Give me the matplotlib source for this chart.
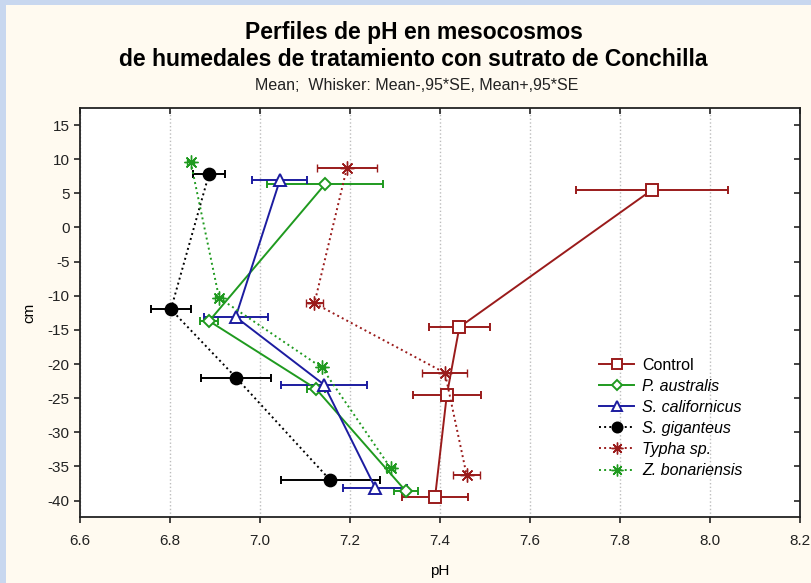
import matplotlib
matplotlib.use("Agg")
import matplotlib.pyplot as plt
from matplotlib.lines import Line2D
from matplotlib.patches import Rectangle

plt.rcParams['font.family'] = ['Liberation Sans', 'DejaVu Sans']

# ---- data ----
series_names = ["Control", "P. australis", "S. californicus", "S. giganteus", "Typha sp.", "Z. bonariensis"]
italic_flags = [False, True, True, True, True, True]

control_ph = [7.871, 7.443, 7.415, 7.389]
control_cm = [5.5, -14.6, -24.6, -39.5]
control_err = [0.168, 0.068, 0.075, 0.074]

paust_ph = [7.144, 6.887, 7.124, 7.324]
paust_cm = [6.3, -13.7, -23.6, -38.6]
paust_err = [0.129, 0.02, 0.02, 0.026]

scal_ph = [7.044, 6.946, 7.142, 7.256]
scal_cm = [6.9, -13.1, -23.0, -38.1]
scal_err = [0.061, 0.071, 0.096, 0.071]

sgig_ph = [6.887, 6.802, 6.947, 7.156]
sgig_cm = [7.9, -12.0, -22.0, -37.0]
sgig_err = [0.036, 0.044, 0.078, 0.11]

typha_ph = [7.193, 7.121, 7.411, 7.459]
typha_cm = [8.7, -11.1, -21.3, -36.2]
typha_err = [0.066, 0.019, 0.05, 0.03]

zbon_ph = [6.846, 6.909, 7.137, 7.29]
zbon_cm = [9.6, -10.3, -20.5, -35.2]
zbon_err = [0.008, 0.008, 0.008, 0.01]

x_ticks = [6.6, 6.8, 7.0, 7.2, 7.4, 7.6, 7.8, 8.0, 8.2]
y_ticks = [15, 10, 5, 0, -5, -10, -15, -20, -25, -30, -35, -40]

# ---- styles ----
RED = "#9a1b1b"
GREEN = "#1f9a1f"
BLUE = "#1c1ca0"
BLACK = "#000000"

styles = [
    dict(color=RED, marker="s", ls="-", mfc="white", ms=9, mew=1.4),
    dict(color=GREEN, marker="D", ls="-", mfc="white", ms=6.5, mew=1.4),
    dict(color=BLUE, marker="^", ls="-", mfc="white", ms=9, mew=1.4),
    dict(color=BLACK, marker="o", ls=":", mfc=BLACK, ms=8.5, mew=1.4),
    dict(color=RED, marker=(8, 2, 0), ls=":", mfc=RED, ms=10, mew=1.0),
    dict(color=GREEN, marker=(8, 2, 0), ls=":", mfc=GREEN, ms=10, mew=1.0),
]
data = [
    (control_ph, control_cm, control_err),
    (paust_ph, paust_cm, paust_err),
    (scal_ph, scal_cm, scal_err),
    (sgig_ph, sgig_cm, sgig_err),
    (typha_ph, typha_cm, typha_err),
    (zbon_ph, zbon_cm, zbon_err),
]

fig = plt.figure(figsize=(8.11, 5.83), dpi=100)
fig.patch.set_facecolor("#c8d7ef")
fig.patches.append(Rectangle((6 / 811, 0), 1, 1 - 5 / 583, transform=fig.transFigure,
                             facecolor="#fffaf0", edgecolor="none", zorder=-10))

ax = fig.add_axes([80 / 811, 1 - 517 / 583, 720 / 811, 409 / 583])
ax.set_zorder(1)
ax.set_facecolor("white")

handles = []
for (xs, ys, es), st in zip(data, styles):
    ax.errorbar(xs, ys, xerr=es, color=st["color"], marker=st["marker"], ls=st["ls"],
                lw=1.4, ms=st["ms"], mfc=st["mfc"], mec=st["color"], mew=st["mew"],
                elinewidth=1.4, capsize=3, capthick=1.2, zorder=3)
    handles.append(Line2D([0], [0], color=st["color"], marker=st["marker"], ls=st["ls"],
                          lw=1.4, ms=st["ms"] * 0.85, mfc=st["mfc"], mec=st["color"],
                          mew=st["mew"]))

ax.set_xlim(6.6, 8.2)
ax.set_ylim(-42.4, 17.5)
ax.set_xticks(x_ticks)
ax.set_xticklabels([f"{v:.1f}" for v in x_ticks])
ax.set_yticks(y_ticks)
ax.set_yticklabels([str(v) for v in y_ticks])
ax.xaxis.grid(True, color="#bdbdbd", ls=":", lw=1.0)
ax.set_axisbelow(True)

for s in ax.spines.values():
    s.set_linewidth(1.3)
    s.set_color("#222222")

ax.tick_params(axis="y", which="both", direction="out", length=4, width=1.2,
               labelsize=11, colors="#222222", right=True)
ax.tick_params(axis="x", which="both", direction="out", length=4, width=1.2,
               labelsize=11, colors="#222222", top=True, pad=8)
for t in ax.yaxis.get_major_ticks():
    t.tick2line.set_marker(matplotlib.lines.TICKLEFT)
for t in ax.xaxis.get_major_ticks():
    t.tick2line.set_marker(matplotlib.lines.TICKDOWN)

ax.set_xlabel("pH", fontsize=11, labelpad=12)
ax.set_ylabel("cm", fontsize=11, labelpad=8)

leg = ax.legend(handles, series_names, loc="upper left", bbox_to_anchor=(0.712, 0.405),
                frameon=False, fontsize=11.5, handlelength=2.2, handletextpad=0.5,
                labelspacing=0.38, borderaxespad=0)
for txt, it in zip(leg.get_texts(), italic_flags):
    if it:
        txt.set_fontstyle("italic")

fig.text(0.51, 1 - 32 / 583, "Perfiles de pH en mesocosmos", ha="center", va="center",
         fontsize=16.5, fontweight="bold")
fig.text(0.51, 1 - 60 / 583, "de humedales de tratamiento con sutrato de Conchilla",
         ha="center", va="center", fontsize=16.5, fontweight="bold")
fig.text(0.514, 1 - 86 / 583, "Mean;  Whisker: Mean-,95*SE, Mean+,95*SE",
         ha="center", va="center", fontsize=11.5, color="#222222")

fig.savefig("out.png", dpi=100, facecolor=fig.get_facecolor())
